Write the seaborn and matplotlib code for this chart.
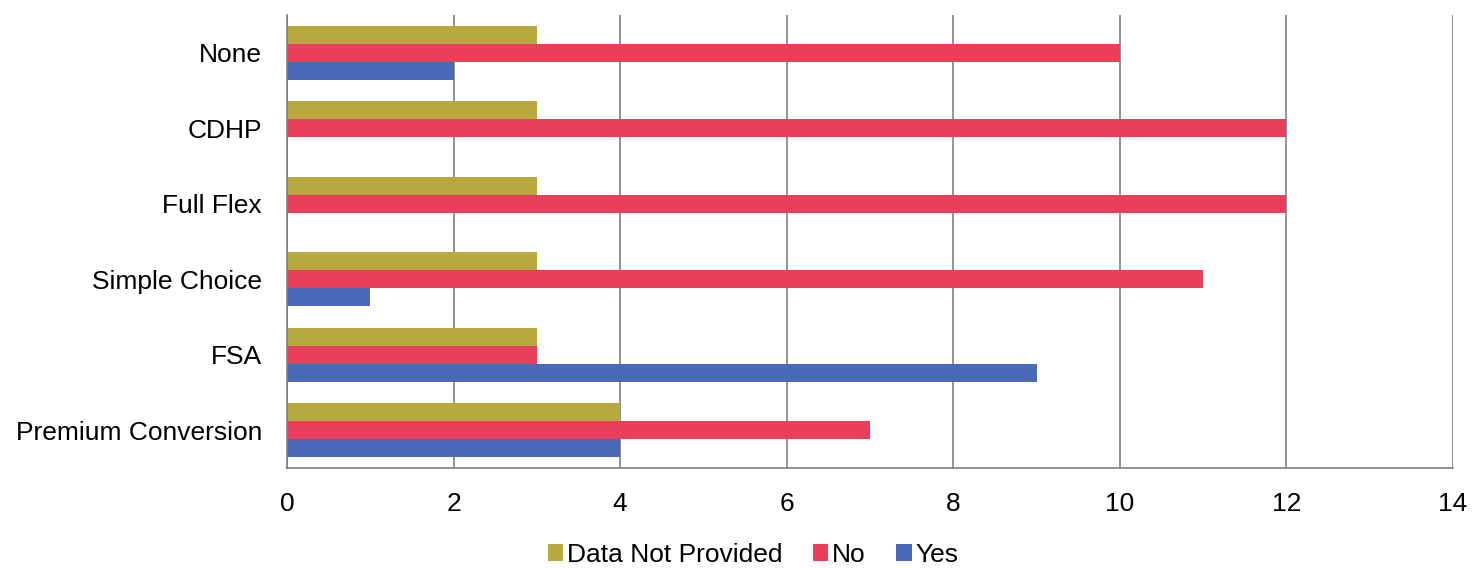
import matplotlib
matplotlib.use("Agg")
import matplotlib.pyplot as plt
import seaborn as sns
import pandas as pd

categories = ["None", "CDHP", "Full Flex", "Simple Choice", "FSA", "Premium Conversion"]
series = ["Data Not Provided", "No", "Yes"]
data_not_provided = [3, 3, 3, 3, 3, 4]
no_vals = [10, 12, 12, 11, 3, 7]
yes_vals = [2, 0, 0, 1, 9, 4]
x_ticks = [0, 2, 4, 6, 8, 10, 12, 14]

colors = ["#b8a840", "#e8405a", "#4a6ab8"]

rows = []
for s, vals in zip(series, [data_not_provided, no_vals, yes_vals]):
    for c, v in zip(categories, vals):
        rows.append({"Category": c, "Series": s, "Value": v})
df = pd.DataFrame(rows)

sns.set_theme(style="white")
plt.rcParams["font.family"] = ["Liberation Sans", "DejaVu Sans"]

fig = plt.figure(figsize=(14.74, 5.68), dpi=100)
ax = fig.add_axes([0.1947, 0.176, 0.7911, 0.7976])

sns.barplot(data=df, y="Category", x="Value", hue="Series", order=categories,
            hue_order=series, palette=colors, orient="h", width=0.72,
            saturation=1, linewidth=0, ax=ax, legend=True)

ax.set_xlim(0, 14)
ax.set_xticks(x_ticks)
ax.set_xticklabels([str(t) for t in x_ticks], fontsize=19, color="black")
for lab in ax.get_yticklabels():
    lab.set_color("black")
ax.tick_params(axis="y", labelsize=19, length=0, pad=18, labelcolor="black")
ax.tick_params(axis="x", length=0, pad=17, labelcolor="black")
ax.set_xlabel("")
ax.set_ylabel("")
ax.grid(axis="x", color="#808080", linewidth=1.2)
ax.set_axisbelow(True)
for side in ["top", "right"]:
    ax.spines[side].set_visible(False)
for side in ["left", "bottom"]:
    ax.spines[side].set_color("#808080")
    ax.spines[side].set_linewidth(1.2)

handles, labels = ax.get_legend_handles_labels()
ax.legend_.remove()
fig.legend(handles, labels, loc="center", bbox_to_anchor=(0.511, 1 - 555 / 568), ncol=3,
           frameon=False, fontsize=19, handlelength=0.58, handleheight=0.58,
           handletextpad=0.15, columnspacing=1.15, labelcolor="black")

fig.savefig("out.png", dpi=100)
